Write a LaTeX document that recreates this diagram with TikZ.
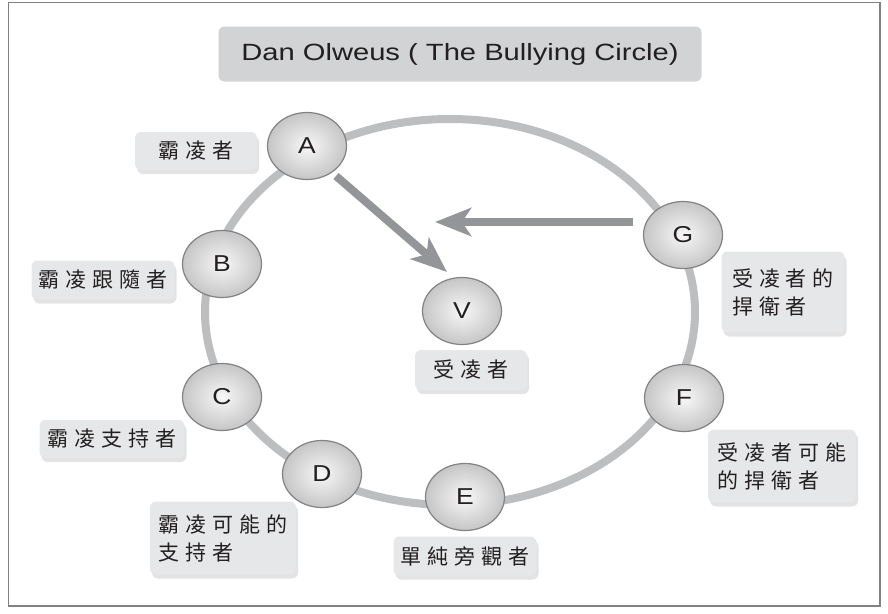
\documentclass[tikz,border=0pt]{standalone}
\usepackage{graphicx}
\usepackage{fontspec}
\setmainfont{Liberation Sans}
\newfontfamily\cjk{Noto Sans CJK TC}
\usetikzlibrary{arrows.meta,shadows,shapes.geometric}
\definecolor{ringgray}{HTML}{BCBEC0}
\definecolor{arrowgray}{HTML}{939598}
\definecolor{labelfill}{HTML}{E6E7E8}
\definecolor{titlefill}{HTML}{D1D3D4}
\definecolor{txt}{HTML}{231F20}
\definecolor{edgegray}{HTML}{808285}
\newcommand\ls{\kern5.8pt}
\newcommand\wide[1]{\scalebox{1.15}[1]{#1}}
\begin{document}
\begin{tikzpicture}[x=1pt,y=-1pt,
  ball/.style={ellipse, draw=edgegray, line width=1.2pt, inner color=gray!6, outer color=gray!45, minimum width=79pt, minimum height=67pt, inner sep=0pt, font=\fontsize{23}{23}\selectfont, text=txt},
  lbl/.style={rounded corners=6pt, fill=labelfill, drop shadow={shadow xshift=2pt, shadow yshift=-4pt, opacity=0.22, fill=gray}, font=\cjk\fontsize{21}{28}\selectfont, text=txt, inner sep=0pt, align=left},
  ring/.style={draw=ringgray, line width=8pt},
  bigarrow/.style={draw=arrowgray, line width=8pt, -{Stealth[length=36pt,width=28pt,inset=9pt]}},
  frame/.style={draw=edgegray, line width=1.5pt}
]
\useasboundingbox (0,0) rectangle (888,613);
\draw[frame] (8.5,2.5) rectangle (880,606);

% title
\node[fill=titlefill, rounded corners=6pt, minimum width=483pt, minimum height=55pt, inner sep=0pt, font=\fontsize{23.5}{23.5}\selectfont, text=txt] (title) at (460,54) {\scalebox{1.24}[1]{Dan Olweus ( The Bullying Circle)}};

% ring
\draw[ring] (450,312) ellipse [x radius=245, y radius=193];

% arrows
\coordinate (a1) at (336,176);
\coordinate (v1) at (447,272);
\coordinate (g1) at (633,222);
\coordinate (t2) at (435,222);
\draw[bigarrow] (a1) -- (v1);
\draw[bigarrow] (g1) -- (t2);

% labels
\node[lbl, minimum width=122pt, minimum height=38pt] (lA) at (196,151) {霸\ls{}凌\ls{}者};
\node[lbl, minimum width=143pt, minimum height=39pt] (lB) at (103,280) {霸\ls{}凌\ls{}跟\ls{}隨\ls{}者};
\node[lbl, minimum width=145pt, minimum height=38pt] (lC) at (112,439) {霸\ls{}凌\ls{}支\ls{}持\ls{}者};
\node[lbl, minimum width=146pt, minimum height=73pt] (lD) at (223,538) {霸\ls{}凌\ls{}可\ls{}能\ls{}的\\支\ls{}持\ls{}者};
\node[lbl, minimum width=143pt, minimum height=39pt] (lE) at (465,556) {單\ls{}純\ls{}旁\ls{}觀\ls{}者};
\node[lbl, minimum width=112pt, minimum height=40pt] (lV) at (471,370) {受\ls{}凌\ls{}者};
\node[lbl, minimum width=123pt, minimum height=81pt] (lG) at (783,292) {受\ls{}凌\ls{}者\ls{}的\\捍\ls{}衛\ls{}者};
\node[lbl, minimum width=148pt, minimum height=73pt] (lF) at (782,466) {受\ls{}凌\ls{}者\ls{}可\ls{}能\\的\ls{}捍\ls{}衛\ls{}者};

% balls
\node[ball] (A) at (307,146) {\wide{A}};
\node[ball] (B) at (222,264) {\wide{B}};
\node[ball] (C) at (222,397) {\wide{C}};
\node[ball] (D) at (322,474) {\wide{D}};
\node[ball] (E) at (465,497) {\wide{E}};
\node[ball] (F) at (684,398) {\wide{F}};
\node[ball] (G) at (683,235) {\wide{G}};
\node[ball] (V) at (462,311) {\wide{V}};
\end{tikzpicture}
\end{document}
